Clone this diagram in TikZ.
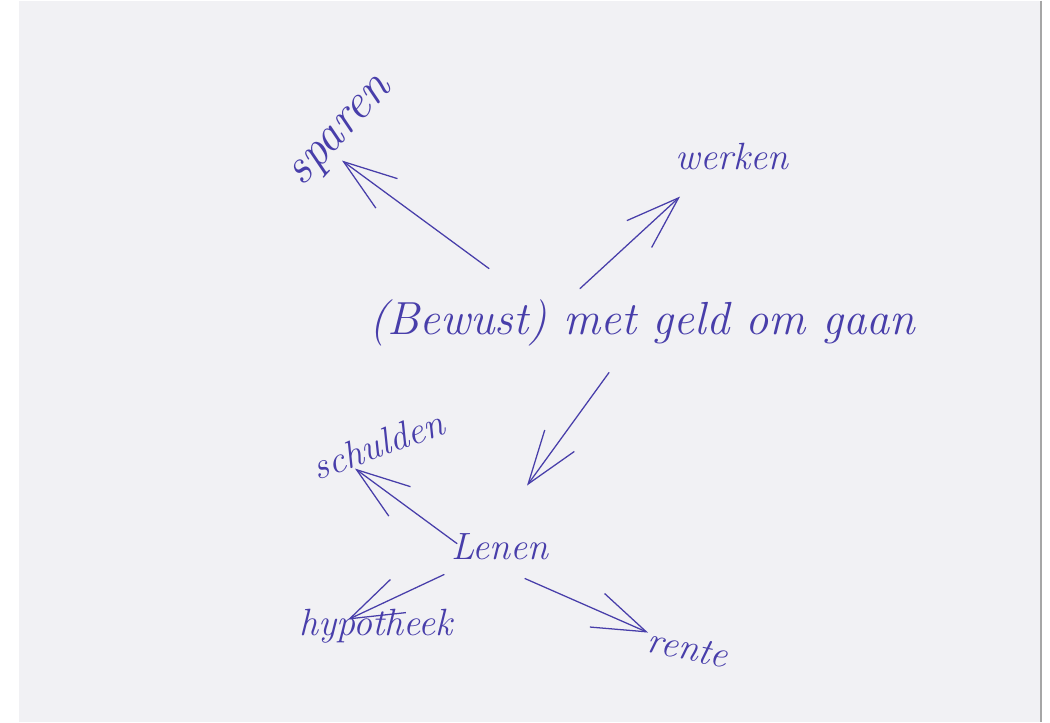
\documentclass[tikz,border=0pt]{standalone}
\usepackage{xcolor}
\usepackage{tikz}
\usetikzlibrary{arrows.meta}

\definecolor{ink}{RGB}{72,62,170}
\definecolor{paper}{RGB}{241,241,244}

\begin{document}
\begin{tikzpicture}[x=0.025cm, y=-0.025cm,
  every node/.style={text=ink, inner sep=0pt, font=\fontsize{27}{30}\selectfont\itshape},
  pen/.style={draw=ink, line width=0.9pt, line cap=round,
    -{Straight Barb[length=38pt, width=26pt, line width=0.9pt]}}]

  % sheet of paper
  \fill[white] (0,0) rectangle (1050,721);
  \fill[paper] (19,0) rectangle (1041,721);
  \draw[gray!70, line width=0.8pt] (1041,0) -- (1041,721);

  % Centre
  \node (centre) at (642,322) {\fontsize{33}{36}\selectfont (Bewust) met geld om gaan};

  % Top branches
  \node[rotate=48] (sparen) at (343,133) {\fontsize{35}{38}\selectfont sparen};
  \node (werken) at (732,156) {werken};

  % Lenen and what hangs off it
  \node (lenen) at (500,546) {Lenen};
  \node[rotate=20] (schulden) at (378,444) {schulden};
  \node (hypotheek) at (376,626) {hypotheek};
  \node[rotate=-12] (rente) at (688,648) {rente};

  \draw[pen] ([shift={(-153,-54)}]centre.center) -- ([shift={(-1,27)}]sparen.center);
  \draw[pen] ([shift={(-62,-34)}]centre.center) -- ([shift={(-52,40)}]werken.center);
  \draw[pen] ([shift={(-33,50)}]centre.center) -- ([shift={(27,-61)}]lenen.center);

  \draw[pen] ([shift={(-43,-3)}]lenen.center) -- ([shift={(-23,24)}]schulden.center);
  \draw[pen] ([shift={(-56,28)}]lenen.center) -- ([shift={(-28,-7)}]hypotheek.center);
  \draw[pen] ([shift={(25,32)}]lenen.center) -- ([shift={(-40,-16)}]rente.center);
\end{tikzpicture}
\end{document}
